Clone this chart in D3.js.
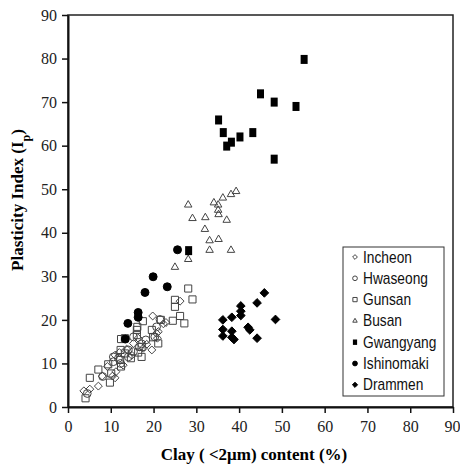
<!DOCTYPE html>
<html>
<head>
<meta charset="UTF-8">
<title>Plasticity index vs clay content</title>
<script src="https://cdn.jsdelivr.net/npm/d3@7/dist/d3.min.js"></script>
<style>
  body { margin: 0; background: #fff; }
</style>
</head>
<body>
<svg id="chart" width="460" height="467"></svg>
<script>
// data: [clay %, Ip]
var incheon = [[3.7,3.7],[5.1,4.1],[7.1,4.8],[8.0,7.1],[9.2,9.3],[10.4,7.1],[11.0,6.7],[11.2,8.1],[11.0,11.9],[12.9,9.6],[13.7,13.3],[14.9,11.9],[15.3,14.6],[17.6,13.5],[18.4,14.4],[19.6,13.1],[19.8,20.9],[20.9,15.8],[21.1,17.3],[22.3,19.1],[22.9,19.4],[26.2,24.3],[20.7,16.9],[16.4,15.8],[12.0,12.5]];
var hwaseong = [[4.5,3.1],[8.1,7.0],[10.6,10.4],[10.6,11.5],[11.8,11.2],[12.3,10.0],[14.1,13.1],[14.1,11.5],[15.3,16.1],[15.3,12.7],[16.7,13.8],[17.2,14.5],[18.2,15.4],[20.3,16.1],[20.7,18.4],[21.5,20.1]];
var gunsan = [[4.1,2.0],[5.1,6.7],[7.1,8.6],[9.4,9.8],[9.8,5.6],[10.1,7.7],[12.4,15.6],[12.2,10.8],[12.4,9.3],[13.3,12.3],[14.7,11.2],[16.1,17.7],[16.1,16.5],[16.2,18.4],[17.5,19.7],[17.2,11.5],[17.2,13.8],[19.6,17.7],[19.9,16.0],[21.1,14.6],[21.7,20.0],[24.5,19.8],[25.0,24.6],[25.0,23.0],[26.2,20.9],[27.2,19.2],[28.1,27.2],[29.1,24.7],[13.3,15.8],[16.4,12.5],[12.3,13.1]];
var busan = [[28.1,46.4],[29.1,43.3],[32.1,43.5],[32.0,40.8],[33.1,38.2],[35.2,38.5],[33.1,36.0],[38.1,36.0],[37.1,42.9],[34.1,46.9],[35.1,46.4],[35.1,45.2],[35.2,44.2],[36.2,48.0],[38.1,48.8],[39.3,49.5],[28.1,33.9],[25.0,32.1]];
var gwangyang = [[55.2,79.8],[45.0,71.9],[48.2,70.0],[53.3,69.0],[35.2,65.9],[36.3,63.0],[38.2,60.8],[37.1,59.9],[40.2,62.0],[43.2,63.0],[48.2,56.9],[28.2,35.9]];
var ishinomaki = [[25.6,36.1],[19.9,29.9],[23.2,27.6],[18.0,26.3],[16.4,21.7],[16.4,20.6],[14.0,19.2],[13.4,15.6]];
var drammen = [[45.9,26.2],[44.2,23.9],[40.4,23.2],[40.4,22.0],[40.4,21.0],[38.3,20.6],[36.2,20.0],[48.5,20.1],[36.2,17.8],[36.2,16.3],[38.3,17.4],[38.3,16.0],[38.8,15.5],[42.1,18.3],[42.5,17.7],[44.2,15.8]];

var seriesNames = ["Incheon", "Hwaseong", "Gunsan", "Busan", "Gwangyang", "Ishinomaki", "Drammen"];
var tickValues = [0, 10, 20, 30, 40, 50, 60, 70, 80, 90];

var series = [
    { name: seriesNames[0], data: incheon, shape: d3.symbolDiamond2, size: 40, filled: false },
    { name: seriesNames[1], data: hwaseong, shape: d3.symbolCircle, size: 48, filled: false },
    { name: seriesNames[2], data: gunsan, shape: d3.symbolSquare2, size: 64, filled: false },
    { name: seriesNames[3], data: busan, shape: d3.symbolTriangle2, size: 40, filled: false },
    { name: seriesNames[4], data: gwangyang, shape: "rect", size: 0, filled: true },
    { name: seriesNames[5], data: ishinomaki, shape: d3.symbolCircle, size: 50, filled: true },
    { name: seriesNames[6], data: drammen, shape: d3.symbolDiamond2, size: 48, filled: true }
];

var svg = d3.select("#chart");
var x = d3.scaleLinear().domain([0, 90]).range([68, 453]);
var y = d3.scaleLinear().domain([0, 90]).range([407, 15]);

// frame
svg.append("rect")
    .attr("x", x(0)).attr("y", y(90))
    .attr("width", x(90) - x(0)).attr("height", y(0) - y(90))
    .attr("fill", "none").attr("stroke", "#222").attr("stroke-width", 1.5);

var xAxis = svg.append("g")
    .attr("transform", "translate(0," + y(0) + ")")
    .call(d3.axisBottom(x).tickValues(tickValues).tickSize(6).tickPadding(8).tickSizeOuter(0));
var yAxis = svg.append("g")
    .attr("transform", "translate(" + x(0) + ",0)")
    .call(d3.axisLeft(y).tickValues(tickValues).tickSize(6).tickPadding(5).tickSizeOuter(0));

[xAxis, yAxis].forEach(function (g) {
    g.select(".domain").attr("stroke", "#111").attr("stroke-width", 2);
    g.selectAll(".tick line").attr("stroke", "#111").attr("stroke-width", 1.5);
    g.selectAll(".tick text")
        .attr("fill", "#222")
        .style("font-family", "'Liberation Serif', 'Times New Roman', serif");
});
xAxis.selectAll(".tick text").style("font-size", "16px");
// keep the last label inside the window
xAxis.selectAll(".tick text").filter(function (d) { return d === 90; }).attr("dx", -1);
yAxis.selectAll(".tick text").style("font-size", "16px");

// axis titles
svg.append("text")
    .attr("x", 254).attr("y", 460)
    .attr("text-anchor", "middle")
    .style("font-family", "'Liberation Serif', 'Times New Roman', serif")
    .style("font-weight", "bold").style("font-size", "17px")
    .text("Clay ( <2μm) content (%)");

var yt = svg.append("text")
    .attr("transform", "translate(23,200) rotate(-90)")
    .attr("text-anchor", "middle")
    .style("font-family", "'Liberation Serif', 'Times New Roman', serif")
    .style("font-weight", "bold").style("font-size", "17px");
yt.append("tspan").text("Plasticity Index (I");
yt.append("tspan").attr("baseline-shift", "sub").style("font-size", "12px").text("p");
yt.append("tspan").text(")");

function drawMarker(g, s, scale) {
    if (s.shape === "rect") {
        g.append("rect")
            .attr("x", -3.5 * scale).attr("y", -4.5 * scale)
            .attr("width", 7 * scale).attr("height", 9 * scale)
            .attr("fill", "#000");
    } else {
        g.append("path")
            .attr("d", d3.symbol().type(s.shape).size(s.size * scale * scale)())
            .attr("fill", s.filled ? "#000" : "none")
            .attr("stroke", s.filled ? "#000" : "#444")
            .attr("stroke-width", 1);
    }
}

// points
series.forEach(function (s) {
    var g = svg.append("g").attr("class", "series");
    g.selectAll("g").data(s.data).enter().append("g")
        .attr("transform", function (d) { return "translate(" + x(d[0]) + "," + y(d[1]) + ")"; })
        .each(function () { drawMarker(d3.select(this), s, 1); });
});

// legend
var legend = svg.append("g");
legend.append("rect")
    .attr("x", 343).attr("y", 247).attr("width", 101).attr("height", 149)
    .attr("fill", "#fff").attr("stroke", "#333").attr("stroke-width", 1);
series.forEach(function (s, i) {
    var row = legend.append("g").attr("transform", "translate(355," + (257 + i * 21.3) + ")");
    drawMarker(row.append("g"), s, 0.6);
    row.append("text")
        .attr("transform", "translate(8,5.5) scale(0.86,1)")
        .style("font-family", "'Liberation Sans', Arial, sans-serif")
        .style("font-size", "16px").attr("fill", "#111")
        .text(s.name);
});
</script>
</body>
</html>
